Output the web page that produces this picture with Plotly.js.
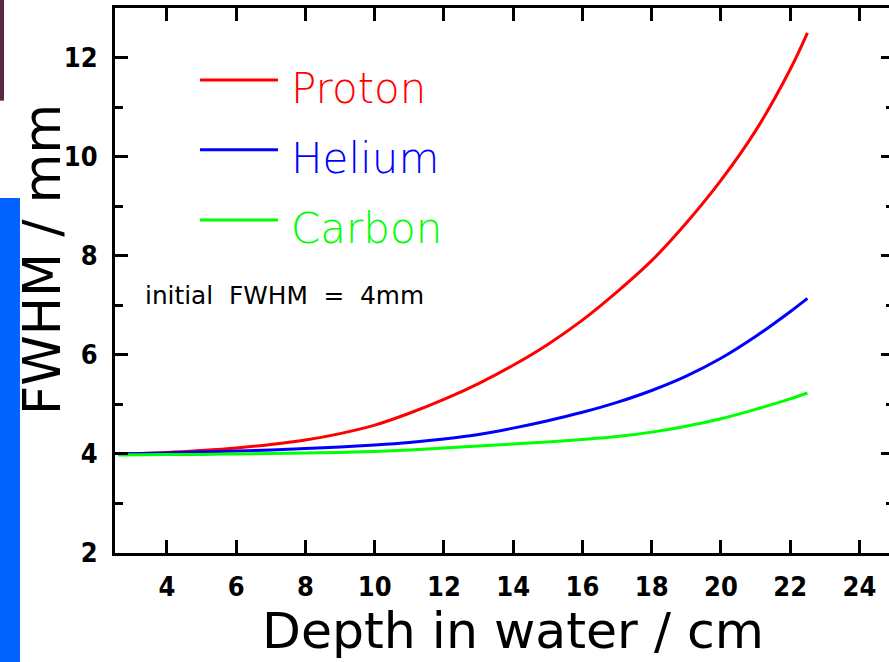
<!DOCTYPE html>
<html>
<head>
<meta charset="utf-8">
<script src="https://cdn.plot.ly/plotly-3.0.1.min.js"></script>
<style>
html,body{margin:0;padding:0;background:#fff;overflow:hidden;width:889px;height:662px;}
#chart{width:900px;height:662px;}
</style>
</head>
<body>
<div id="chart"></div>
<script>
// Depth in water / cm
const depth = [2.6, 4, 5, 6, 7, 8, 9, 10, 11, 12, 13, 14, 15, 16, 17, 18, 19, 20, 21, 22, 22.5];
// FWHM / mm
const proton = [4.00, 4.03, 4.07, 4.12, 4.19, 4.28, 4.41, 4.58, 4.82, 5.10, 5.42, 5.79, 6.21, 6.70, 7.27, 7.90, 8.66, 9.52, 10.52, 11.76, 12.50];
const helium = [4.00, 4.02, 4.04, 4.06, 4.08, 4.11, 4.14, 4.18, 4.23, 4.30, 4.39, 4.52, 4.67, 4.84, 5.04, 5.28, 5.57, 5.93, 6.37, 6.87, 7.14];
const carbon = [3.98, 3.99, 3.99, 4.00, 4.01, 4.02, 4.03, 4.05, 4.08, 4.12, 4.16, 4.20, 4.24, 4.29, 4.35, 4.44, 4.56, 4.71, 4.90, 5.11, 5.23];

const seriesNames = ["Proton", "Helium", "Carbon"];
const seriesColors = ["#ff0000", "#0000ff", "#00ff00"];
const seriesValues = [proton, helium, carbon];

const xTicks = [4, 6, 8, 10, 12, 14, 16, 18, 20, 22, 24];
const yTicks = [2, 4, 6, 8, 10, 12];

const traces = seriesValues.map((v, i) => ({
  x: depth, y: v, type: "scatter", mode: "lines", name: seriesNames[i],
  line: {color: seriesColors[i], width: 3, shape: "spline", smoothing: 1},
  showlegend: false, hoverinfo: "skip"
}));
// invisible helper trace so the right-hand tick axis is drawn
traces.push({x: [depth[0]], y: [proton[0]], yaxis: "y2", type: "scatter", mode: "none",
  showlegend: false, hoverinfo: "skip"});

// legend (drawn manually to match reference)
const legY = [0.868, 0.740, 0.611];
const shapes = [];
const annotations = [];
seriesNames.forEach((n, i) => {
  shapes.push({type: "line", xref: "paper", yref: "paper", x0: 0.1091, x1: 0.2092, y0: legY[i], y1: legY[i],
    line: {color: seriesColors[i], width: 3}});
  annotations.push({xref: "paper", yref: "paper", x: 0.2235, y: legY[i] - 0.016, xanchor: "left", yanchor: "middle",
    text: n, showarrow: false,
    font: {family: "DejaVu Sans ExtraLight, DejaVu Sans", weight: 200, size: 42, color: seriesColors[i]}});
});
annotations.push({xref: "paper", yref: "paper", x: 0.036, y: 0.473, xanchor: "left", yanchor: "middle",
  text: "initial\u00a0\u00a0FWHM\u00a0\u00a0=\u00a0\u00a04mm", showarrow: false,
  font: {family: "DejaVu Sans", size: 24.8, color: "#000"}});
// axis titles (placed as in the reference)
annotations.push({xref: "paper", yref: "paper", x: -0.0937, y: 0.5376, xanchor: "center", yanchor: "middle",
  text: "FWHM / mm", textangle: -90, showarrow: false,
  font: {family: "DejaVu Sans", size: 51, color: "#000"}});
annotations.push({xref: "paper", yref: "paper", x: 0.511, y: -0.1413, xanchor: "center", yanchor: "middle",
  text: "Depth in water / cm", showarrow: false,
  font: {family: "DejaVu Sans", size: 50.5, color: "#000"}});

// decorative page edges seen in the reference
shapes.push({type: "rect", xref: "paper", yref: "paper", x0: -0.1476, x1: -0.1220, y0: -0.2, y1: 0.6514,
  fillcolor: "#0062ff", line: {width: 0}, layer: "above"});
shapes.push({type: "rect", xref: "paper", yref: "paper", x0: -0.1476, x1: -0.1425, y0: 0.830, y1: 1.015,
  fillcolor: "#5a2a45", line: {width: 0}, layer: "above"});

const tickFont = {family: "DejaVu Sans Condensed, DejaVu Sans", weight: "bold", size: 27, color: "#000"};
const axisCommon = {
  showline: true, linecolor: "#000", linewidth: 3,
  ticks: "inside", ticklen: 13, tickwidth: 3, tickcolor: "#000",
  showgrid: false, zeroline: false, tickfont: tickFont
};
const yMinor = {dtick: 1, tick0: 3, ticks: "inside", ticklen: 8, tickwidth: 3, tickcolor: "#000"};

const layout = {
  width: 900, height: 662,
  margin: {l: 115, r: 6, t: 8, b: 109},
  paper_bgcolor: "#fff", plot_bgcolor: "#fff",
  xaxis: Object.assign({}, axisCommon, {
    mirror: "ticks",
    range: [2.5, 25], tickvals: xTicks, ticktext: xTicks.map(String),
    ticklabelstandoff: 8
  }),
  yaxis: Object.assign({}, axisCommon, {
    mirror: false,
    range: [2, 13], tickvals: yTicks, ticktext: yTicks.map(String),
    ticklabelstandoff: 9,
    minor: yMinor
  }),
  yaxis2: {
    overlaying: "y", side: "right", range: [2, 13], tickvals: yTicks,
    showline: false, showticklabels: false, showgrid: false, zeroline: false,
    ticks: "inside", ticklen: 13, tickwidth: 3, tickcolor: "#000",
    minor: yMinor
  },
  shapes: shapes,
  annotations: annotations
};

Plotly.newPlot("chart", traces, layout, {staticPlot: true, displayModeBar: false});
</script>
</body>
</html>
